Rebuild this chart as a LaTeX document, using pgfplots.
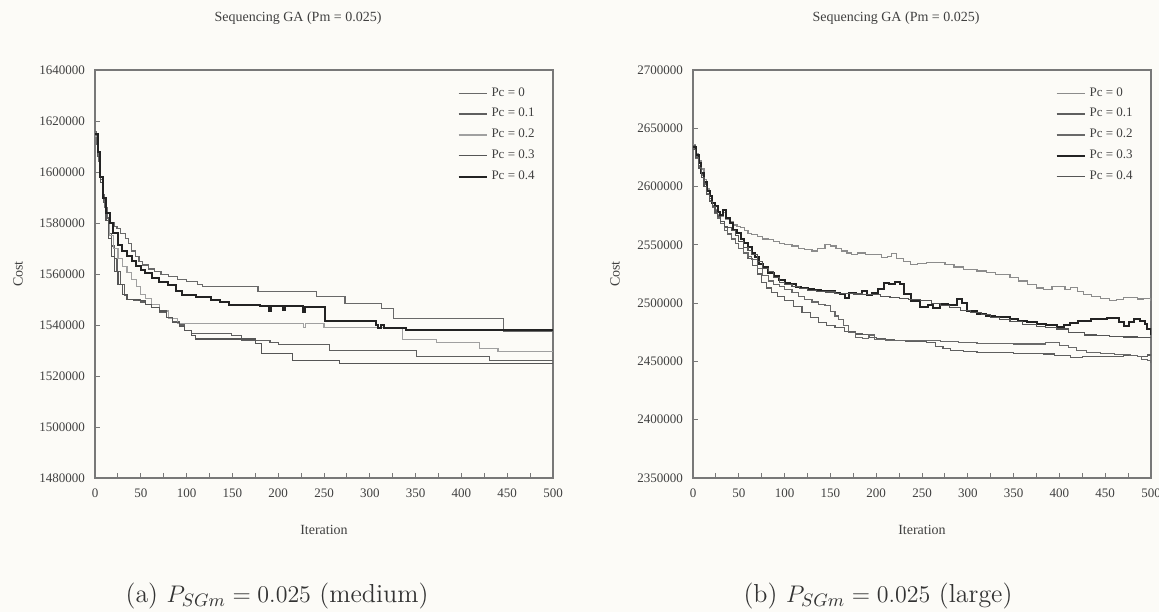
\documentclass[border=0pt]{standalone}
\usepackage{fontspec}
\usepackage{pgfplots}
\pgfplotsset{compat=1.18}
\newfontfamily\chartfont{Liberation Serif}
\definecolor{bg}{RGB}{252,251,247}
\definecolor{axgray}{RGB}{120,120,120}
\definecolor{gA}{RGB}{105,105,105}
\definecolor{gB}{RGB}{95,95,95}
\definecolor{gC}{RGB}{160,160,160}
\definecolor{gD}{RGB}{85,85,85}
\definecolor{gK}{RGB}{35,35,35}
\definecolor{gL}{RGB}{140,140,140}
\pgfplotsset{
  myaxis/.style={
    anchor=south west, scale only axis, width=229pt, height=204pt,
    xmin=0, xmax=500,
    xtick={0,50,...,500}, minor xtick={25,75,...,475},
    tick align=inside, xtick pos=bottom, ytick pos=left,
    major tick length=2.5pt, minor tick length=2.5pt,
    every tick/.style={axgray, line width=0.5pt},
    axis line style={axgray, line width=0.6pt},
    ticklabel style={font=\chartfont\fontsize{6.5}{7}\selectfont, text=black!75},
    /pgf/number format/assume math mode=true,
    scaled y ticks=false,
    xticklabel style={yshift=-2pt},
    yticklabel style={xshift=-1.5pt},
    legend style={draw=none, fill=none, at={(1,1)}, anchor=north east, xshift=-6pt, yshift=-5.5pt,
      font=\chartfont\fontsize{6.5}{7}\selectfont, text=black!75, row sep=0.6pt, inner sep=1pt},
    legend cell align=left,
    legend image code/.code={\draw[##1] (0pt,0pt) -- (14pt,0pt);},
    every axis plot/.append style={const plot, line width=0.6pt},
  }
}
\begin{document}
\begin{tikzpicture}
\fill[bg] (0,0) rectangle (579.5pt,306pt);
\useasboundingbox (0,0) rectangle (579.5pt,306pt);

% ---------------- left: medium ----------------
\begin{axis}[myaxis, at={(47.5pt,67pt)},
  ymin=1480000, ymax=1640000,
  ytick={1480000,1500000,1520000,1540000,1560000,1580000,1600000,1620000,1640000},
  yticklabels={1480000,1500000,1520000,1540000,1560000,1580000,1600000,1620000,1640000}]
\addplot[gA] coordinates {(0,1616000)(2,1611000)(4,1604000)(6,1597000)(8,1591000)(10,1586000)(13,1582000)(17,1580000)(21,1578500)(24,1578000)(28,1576000)(33,1574000)(37,1572000)(40,1569000)(44,1567000)(48,1565000)(52,1563500)(58,1562000)(65,1561000)(72,1559700)(80,1559000)(90,1558000)(100,1557000)(112,1556000)(117,1555000)(178,1553100)(242,1551100)(273,1548500)(313,1546500)(326,1542500)(446,1537600)(500,1537600)};
\addlegendentry{Pc = 0}
\addplot[gB] coordinates {(0,1615000)(3,1607000)(6,1597000)(9,1589000)(12,1582000)(15,1576000)(18,1571000)(21,1566000)(24,1561000)(28,1556000)(32,1551500)(35,1550000)(42,1549800)(50,1549000)(55,1548000)(62,1547000)(70,1545000)(78,1543000)(85,1541500)(92,1540000)(98,1537800)(105,1536600)(149,1535800)(160,1534000)(191,1533000)(200,1532500)(256,1530000)(351,1527800)(431,1526100)(500,1526100)};
\addlegendentry{Pc = 0.1}
\addplot[gC] coordinates {(0,1614000)(3,1606000)(6,1596000)(9,1588000)(12,1581000)(16,1575000)(20,1570000)(25,1566000)(30,1563000)(35,1560500)(40,1558000)(45,1555000)(50,1552000)(55,1550500)(62,1548000)(70,1545500)(80,1542500)(90,1540500)(102,1540500)(228,1539000)(230,1540500)(250,1539000)(336,1534400)(373,1533000)(420,1530700)(440,1529700)(500,1529700)};
\addlegendentry{Pc = 0.2}
\addplot[gD] coordinates {(0,1615000)(3,1606000)(6,1596000)(9,1588000)(12,1581000)(15,1574000)(18,1567000)(21,1561000)(25,1556000)(30,1552000)(35,1550000)(48,1549500)(55,1548000)(62,1547000)(70,1545500)(78,1543000)(85,1541000)(92,1539500)(98,1538000)(105,1536000)(110,1534500)(175,1532700)(182,1528700)(216,1526100)(267,1524800)(500,1524800)};
\addlegendentry{Pc = 0.3}
\addplot[gK, line width=1pt] coordinates {(0,1615000)(3,1608000)(6,1598000)(9,1590000)(12,1584000)(16,1580000)(20,1576000)(25,1571500)(30,1569000)(35,1567000)(40,1565000)(45,1563000)(50,1561500)(55,1560300)(62,1558500)(70,1557000)(80,1555700)(88,1553500)(95,1551800)(110,1551000)(127,1549800)(136,1549000)(146,1547800)(180,1547500)(190,1545500)(192,1547500)(205,1545800)(207,1547500)(227,1545000)(229,1547200)(251,1541500)(307,1540000)(309,1538900)(312,1540000)(315,1538900)(340,1538200)(500,1538200)};
\addlegendentry{Pc = 0.4}
\end{axis}

% ---------------- right: large ----------------
\begin{axis}[myaxis, at={(346.5pt,67pt)},
  ymin=2350000, ymax=2700000,
  ytick={2350000,2400000,2450000,2500000,2550000,2600000,2650000,2700000},
  yticklabels={2350000,2400000,2450000,2500000,2550000,2600000,2650000,2700000}]
\addplot[gL] coordinates {(0,2636000)(3,2628000)(6,2622000)(9,2615000)(12,2606000)(15,2598000)(18,2592000)(21,2586000)(24,2580000)(27,2576000)(30,2574000)(33,2578000)(36,2572000)(40,2570000)(44,2567000)(48,2566000)(52,2565000)(56,2562000)(60,2560000)(64,2559000)(70,2557000)(76,2555000)(82,2554700)(88,2553000)(94,2551000)(100,2550000)(108,2549000)(115,2547000)(122,2546000)(130,2544700)(136,2547000)(144,2550400)(150,2549000)(156,2547000)(162,2544700)(168,2543000)(173,2542000)(180,2543000)(188,2542000)(194,2541900)(200,2542000)(206,2539000)(212,2540000)(217,2542500)(222,2538000)(230,2536000)(237,2533300)(245,2534000)(255,2535000)(266,2534800)(275,2533000)(285,2531000)(295,2529000)(310,2527600)(320,2526000)(330,2524500)(346,2521900)(355,2519000)(365,2516000)(375,2513000)(383,2512000)(392,2514000)(400,2514500)(406,2512000)(412,2513400)(420,2510000)(426,2507700)(435,2506000)(445,2504000)(455,2502000)(462,2503000)(470,2505000)(478,2504900)(485,2503500)(492,2504000)(500,2502000)};
\addlegendentry{Pc = 0}
\addplot[gB] coordinates {(0,2635000)(3,2626000)(6,2618000)(9,2611000)(12,2603000)(15,2596000)(18,2590000)(21,2584000)(24,2579000)(27,2575000)(30,2570000)(34,2565000)(38,2560000)(42,2555000)(46,2551000)(50,2547000)(55,2543000)(60,2538000)(65,2532000)(70,2525000)(75,2517700)(80,2513000)(86,2509100)(92,2506000)(100,2502000)(110,2497000)(119,2492000)(128,2488000)(137,2483500)(146,2481000)(155,2479200)(165,2476000)(177,2473500)(185,2473000)(193,2470700)(200,2470000)(210,2469000)(220,2468000)(232,2467500)(245,2467000)(255,2466000)(265,2463000)(273,2461000)(281,2459200)(295,2458500)(310,2458000)(330,2457500)(350,2457000)(370,2456600)(383,2456400)(395,2455000)(412,2453600)(425,2454000)(440,2454500)(455,2454000)(470,2455000)(485,2454500)(496,2455500)(500,2456000)};
\addlegendentry{Pc = 0.1}
\addplot[gA] coordinates {(0,2633000)(3,2624000)(6,2617000)(9,2610000)(12,2602000)(15,2594000)(18,2588000)(21,2582000)(24,2577000)(27,2573000)(30,2568000)(34,2562000)(38,2559000)(42,2555000)(46,2551000)(50,2547000)(55,2543000)(60,2540000)(64,2537600)(70,2530000)(76,2524000)(82,2519000)(88,2516000)(94,2514000)(100,2512000)(108,2509000)(115,2506000)(122,2503400)(130,2501000)(137,2499000)(144,2497700)(150,2493000)(155,2489000)(159,2486300)(164,2481000)(170,2475000)(177,2470700)(185,2470000)(192,2472600)(198,2469000)(210,2467800)(225,2468000)(240,2468000)(255,2467800)(270,2467000)(290,2466000)(310,2465500)(330,2465500)(350,2465000)(375,2465000)(385,2466000)(392,2466500)(400,2464000)(410,2462000)(419,2459200)(430,2458000)(445,2457000)(460,2456000)(477,2455000)(485,2454000)(490,2452000)(496,2451000)(500,2449000)};
\addlegendentry{Pc = 0.2}
\addplot[gK, line width=1pt] coordinates {(0,2634000)(3,2627000)(6,2620000)(9,2612000)(12,2604000)(15,2596000)(18,2592000)(21,2586000)(24,2583000)(27,2578000)(30,2576000)(33,2580000)(36,2573000)(40,2569000)(44,2563000)(48,2560000)(52,2555000)(56,2552000)(60,2548000)(64,2543300)(68,2540000)(72,2534000)(76,2531000)(82,2526200)(88,2523000)(94,2520000)(100,2517700)(106,2516000)(112,2514000)(118,2513000)(126,2512000)(132,2511500)(140,2510000)(148,2510500)(155,2509100)(160,2508000)(166,2504000)(170,2509000)(178,2508000)(185,2510000)(190,2507000)(195,2509100)(202,2512000)(208,2517700)(214,2516000)(220,2518000)(226,2516000)(230,2507700)(238,2502000)(248,2496300)(256,2498000)(262,2496000)(270,2499000)(278,2498000)(288,2503400)(294,2500000)(299,2493400)(310,2490600)(320,2489000)(330,2488000)(346,2486300)(355,2485000)(365,2484000)(376,2482000)(385,2481000)(397,2479200)(405,2481000)(412,2483000)(420,2485000)(427,2484900)(435,2486000)(445,2486500)(452,2487000)(459,2486900)(465,2484000)(470,2480600)(476,2484000)(481,2486000)(488,2485000)(493,2482000)(496,2478000)(500,2473000)};
\addlegendentry{Pc = 0.3}
\addplot[gD] coordinates {(0,2632000)(3,2625000)(6,2616000)(9,2608000)(12,2600000)(15,2593000)(18,2587000)(21,2583000)(24,2578000)(27,2574000)(30,2570000)(34,2566000)(38,2565000)(42,2562000)(46,2558000)(50,2553000)(55,2548000)(60,2545000)(64,2542000)(70,2536000)(76,2530000)(82,2527000)(88,2522000)(94,2518000)(100,2516000)(108,2514000)(116,2512500)(125,2511000)(135,2510000)(145,2509500)(155,2508500)(165,2508000)(175,2507800)(185,2507700)(193,2507700)(205,2506000)(215,2505000)(225,2504000)(235,2503000)(248,2502000)(260,2500000)(270,2498000)(280,2496000)(292,2494000)(303,2492000)(315,2490000)(325,2488000)(335,2486000)(346,2484000)(360,2482000)(375,2480000)(385,2479000)(397,2477800)(410,2475000)(427,2472600)(440,2472000)(455,2471500)(470,2471000)(485,2470800)(500,2470700)};
\addlegendentry{Pc = 0.4}
\end{axis}

% titles and axis labels
\begin{scope}[font=\chartfont\fontsize{7}{8}\selectfont, text=black!75]
\node at (149pt,297pt) {Sequencing GA (Pm = 0.025)};
\node at (448pt,297pt) {Sequencing GA (Pm = 0.025)};
\node at (162pt,41pt) {Iteration};
\node at (461pt,41pt) {Iteration};
\node[rotate=90] at (9pt,169pt) {Cost};
\node[rotate=90] at (307.5pt,169pt) {Cost};
\end{scope}
% captions
\begin{scope}[font=\fontsize{13}{15}\selectfont, text=black!80]
\node at (138.5pt,8pt) {(a) $P_{SGm} = 0.025$ (medium)};
\node at (439pt,8pt) {(b) $P_{SGm} = 0.025$ (large)};
\end{scope}
\end{tikzpicture}
\end{document}
